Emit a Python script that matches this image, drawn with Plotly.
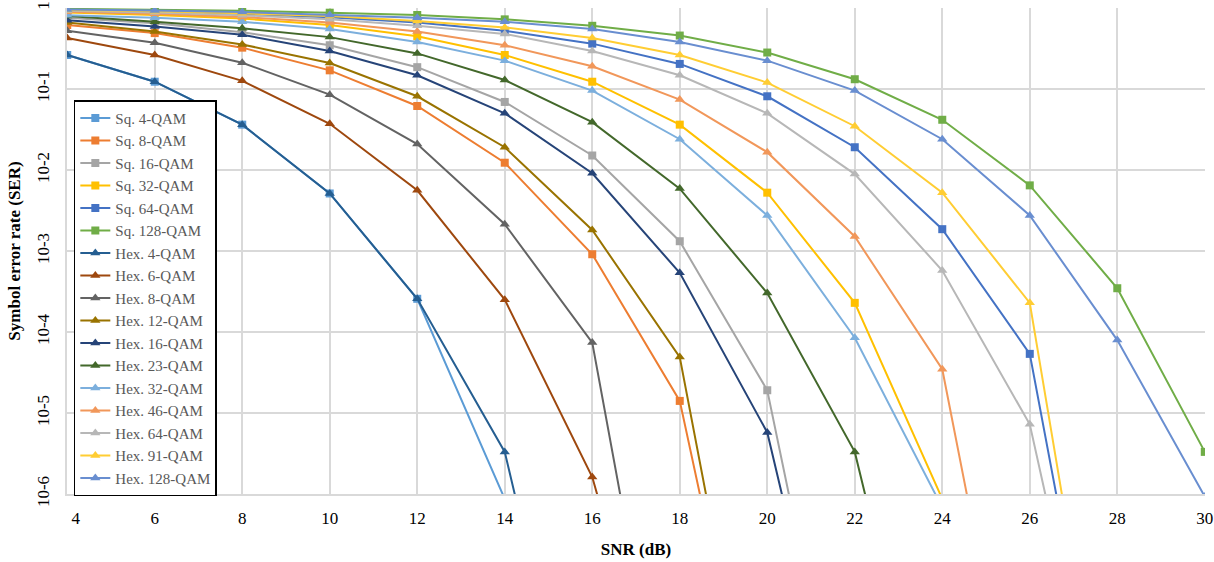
import plotly.graph_objects as go

snr = [4, 6, 8, 10, 12, 14, 16, 18, 20, 22, 24, 26, 28, 30]

sq4 = [0.263, 0.123, 0.0363, 0.00513, 2.57e-4, 8.7e-7]
sq8 = [0.617, 0.490, 0.324, 0.170, 0.0617, 0.0123, 9.12e-4, 1.41e-5, 1.4e-10]
sq16 = [0.759, 0.646, 0.501, 0.347, 0.186, 0.0692, 0.0151, 0.00132, 1.91e-5, 1.2e-10]
sq32 = [0.881, 0.822, 0.741, 0.617, 0.447, 0.263, 0.123, 0.0363, 0.00525, 2.29e-4, 8.7e-7]
sq64 = [0.933, 0.891, 0.841, 0.767, 0.661, 0.525, 0.363, 0.204, 0.0813, 0.0191, 0.00186, 5.37e-5, 1.0e-10]
sq128 = [0.977, 0.955, 0.923, 0.875, 0.820, 0.724, 0.603, 0.457, 0.282, 0.132, 0.0417, 0.00646, 3.47e-4, 3.31e-6]
hex4 = [0.263, 0.123, 0.0363, 0.00513, 2.57e-4, 3.31e-6, 9e-11]
hex6 = [0.427, 0.263, 0.126, 0.0372, 0.00562, 2.51e-4, 1.62e-6, 2.5e-10]
hex8 = [0.525, 0.372, 0.211, 0.0851, 0.0209, 0.00214, 7.41e-5, 1.0e-10]
hex12 = [0.661, 0.513, 0.355, 0.209, 0.0813, 0.0191, 0.00182, 4.90e-5, 1.1e-10]
hex16 = [0.708, 0.589, 0.468, 0.295, 0.148, 0.0501, 0.00912, 5.37e-4, 5.75e-6, 1.6e-10]
hex23 = [0.794, 0.676, 0.562, 0.437, 0.275, 0.129, 0.0389, 0.00589, 3.02e-4, 3.31e-6, 1.2e-10]
hex32 = [0.813, 0.759, 0.676, 0.550, 0.380, 0.224, 0.0955, 0.0240, 0.00275, 8.51e-5, 6.8e-7]
hex46 = [0.902, 0.851, 0.776, 0.661, 0.513, 0.347, 0.191, 0.0741, 0.0166, 0.00151, 3.47e-5, 1.1e-10]
hex64 = [0.923, 0.881, 0.813, 0.724, 0.603, 0.479, 0.295, 0.148, 0.0501, 0.00891, 5.75e-4, 7.24e-6, 1.0e-10]
hex91 = [0.944, 0.912, 0.861, 0.794, 0.692, 0.575, 0.427, 0.263, 0.120, 0.0347, 0.00525, 2.29e-4, 8.3e-11]
hex128 = [0.955, 0.933, 0.891, 0.822, 0.759, 0.676, 0.550, 0.380, 0.224, 0.0955, 0.0240, 0.00275, 7.94e-5, 9.3e-7]

names = ["Sq. 4-QAM", "Sq. 8-QAM", "Sq. 16-QAM", "Sq. 32-QAM", "Sq. 64-QAM", "Sq. 128-QAM",
         "Hex. 4-QAM", "Hex. 6-QAM", "Hex. 8-QAM", "Hex. 12-QAM", "Hex. 16-QAM", "Hex. 23-QAM",
         "Hex. 32-QAM", "Hex. 46-QAM", "Hex. 64-QAM", "Hex. 91-QAM", "Hex. 128-QAM"]
series = [sq4, sq8, sq16, sq32, sq64, sq128, hex4, hex6, hex8, hex12, hex16, hex23,
          hex32, hex46, hex64, hex91, hex128]
colors = ["#5B9BD5", "#ED7D31", "#A5A5A5", "#FFC000", "#4472C4", "#70AD47",
          "#255E91", "#9E480E", "#636363", "#997300", "#264478", "#43682B",
          "#7CAFDD", "#F1975A", "#B7B7B7", "#FFCD33", "#698ED0"]

y_tickvals = [1, 1e-1, 1e-2, 1e-3, 1e-4, 1e-5, 1e-6]
y_ticktext = ["1", "10-1", "10-2", "10-3", "10-4", "10-5", "10-6"]
x_tickvals = snr
nb = "\u00a0"
x_ticktext = [str(v) for v in x_tickvals]
x_ticktext[0] = nb * 4 + x_ticktext[0]

fig = go.Figure()
for name, vals, col in zip(names, series, colors):
    sym = "square" if name.startswith("Sq") else "triangle-up"
    fig.add_trace(go.Scatter(
        x=snr[:len(vals)], y=vals, name=name, mode="lines+markers",
        line=dict(color=col, width=2),
        marker=dict(symbol=sym, size=8 if sym == "square" else 9, color=col),
    ))

font_family = "Liberation Serif"
fig.update_layout(
    width=1214, height=562,
    margin=dict(l=67, r=9, t=8, b=68, autoexpand=False),
    paper_bgcolor="white", plot_bgcolor="white",
    font=dict(family=font_family, size=16, color="#000000"),
    showlegend=True,
    legend=dict(
        x=0.006, y=0.81, xanchor="left", yanchor="top",
        bgcolor="white", bordercolor="#000000", borderwidth=1.5,
        font=dict(family=font_family, size=15, color="#595959"),
        tracegroupgap=0, itemwidth=30,
    ),
)
fig.update_xaxes(
    range=[3.995, 30.005], tickvals=x_tickvals, ticktext=x_ticktext,
    automargin=False,
    showgrid=True, gridcolor="#D9D9D9", gridwidth=1.5,
    showline=True, linecolor="#D9D9D9", linewidth=1.5, mirror=False,
    zeroline=False, ticks="", ticklabelstandoff=8,
    tickfont=dict(family=font_family, size=17, color="#000000"),
    title=dict(text="<b>SNR (dB)</b>", font=dict(family=font_family, size=17, color="#000000"), standoff=16),
)
fig.update_yaxes(
    type="log", range=[-6, 0], tickvals=y_tickvals, ticktext=y_ticktext,
    tickangle=-90, automargin=False,
    showgrid=True, gridcolor="#D9D9D9", gridwidth=1.5,
    showline=True, linecolor="#D9D9D9", linewidth=1.5,
    zeroline=False, ticks="", ticklabelstandoff=9,
    tickfont=dict(family=font_family, size=17, color="#000000"),
    title=dict(text="<b>Symbol error rate (SER)</b>", font=dict(family=font_family, size=17, color="#000000"), standoff=10),
)

fig.write_html("out.html")
